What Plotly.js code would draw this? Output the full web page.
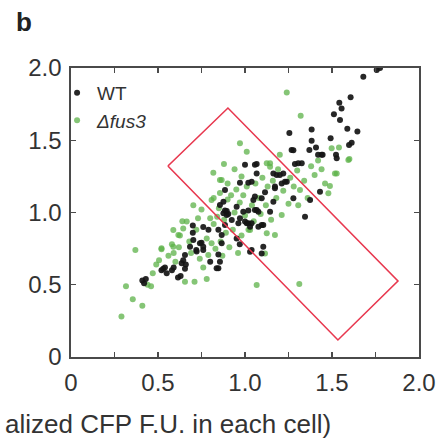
<!DOCTYPE html>
<html>
<head>
<meta charset="utf-8">
<script src="https://cdn.plot.ly/plotly-3.0.1.min.js"></script>
<style>html,body{margin:0;padding:0;background:#fff;}#chart{width:448px;height:440px;}</style>
</head>
<body>
<div id="chart"></div>
<script>
// WT (black) points
const wtX = [0.41,0.42,0.43,0.52,0.53,0.54,0.55,0.58,0.59,0.615,0.63,0.645,0.636,0.655,0.655,0.66,
  0.70,0.70,0.703,0.72,0.722,0.75,0.76,0.76,0.79,0.80,0.684,0.741,0.837,0.76,
  0.847,0.847,0.856,0.847,0.866,0.885,0.876,0.885,0.856,0.866,0.876,
  0.895,0.904,0.885,0.895,0.924,0.952,0.952,0.962,0.971,0.99,1.0,0.971,0.97,
  1.01,1.019,1.029,1.019,1.019,1.038,1.038,1.038,1.048,1.057,1.057,1.067,1.077,1.067,1.067,1.0,1.057,1.029,1.077,
  1.096,1.115,1.096,1.105,1.105,1.096,
  1.144,1.163,1.172,1.172,1.163,1.182,1.22,1.211,1.24,1.2,1.23,
  1.255,1.268,1.278,1.278,1.287,1.306,1.326,1.345,1.37,1.374,1.383,1.383,1.408,1.42,1.431,1.44,1.446,
  1.492,1.511,1.523,1.527,1.542,1.546,1.555,1.588,1.598,1.607,1.613,1.646,1.68,1.757,1.776];
const wtY = [0.53,0.51,0.54,0.60,0.61,0.62,0.58,0.60,0.62,0.55,0.56,0.67,0.648,0.706,0.61,0.64,
  0.91,0.86,0.81,0.74,0.73,0.79,0.74,0.90,0.88,0.66,0.763,0.787,0.614,0.763,
  0.88,0.71,0.66,0.614,0.844,0.913,1.075,1.156,1.052,0.787,0.994,
  1.01,0.99,1.013,0.983,0.948,0.82,1.04,0.925,0.96,1.006,0.937,1.206,0.78,
  0.925,0.925,0.902,1.013,1.206,1.213,0.925,0.74,1.087,1.11,1.017,1.017,1.006,1.27,1.336,1.33,1.33,0.729,0.902,
  1.098,1.14,0.913,0.913,0.763,0.717,
  1.006,1.075,1.18,1.167,1.27,1.26,1.27,1.20,1.213,1.26,1.213,
  1.55,1.433,1.43,1.098,1.335,1.34,1.34,0.971,1.433,1.087,1.575,1.497,1.45,1.40,1.144,1.40,1.40,
  1.513,1.68,1.40,1.375,1.76,1.64,1.72,1.58,1.467,1.797,1.483,1.56,1.94,1.986,2.0];

// Δfus3 (green) points
const fusX = [0.29,0.355,0.41,0.316,0.37,0.46,0.47,0.506,0.52,0.58,0.59,0.655,0.71,0.78,0.626,0.64,0.49,0.44,
  0.56,0.60,0.62,0.588,0.617,0.645,0.665,0.52,0.588,0.68,0.69,0.72,0.73,0.74,0.75,0.76,0.78,0.789,0.80,0.808,
  0.808,0.82,0.703,0.82,0.83,0.84,0.85,0.86,0.87,0.88,0.89,0.90,0.91,0.92,0.93,0.94,0.95,0.96,0.97,0.98,0.99,
  1.0,1.01,1.02,1.029,1.04,1.05,1.06,1.067,1.08,1.09,1.10,1.115,1.12,1.125,1.13,1.144,1.144,1.125,1.15,1.16,
  1.172,1.18,1.19,1.2,1.211,1.22,1.24,1.25,1.26,1.28,1.30,1.306,1.312,1.316,1.32,1.34,1.36,1.38,1.40,1.42,1.44,
  1.46,1.479,1.488,1.498,1.517,1.527,1.54,1.594,1.60,0.971,1.01,0.879,0.818,0.866,0.856,0.90,0.94,0.98,0.856];
const fusY = [0.28,0.40,0.355,0.49,0.74,0.49,0.58,0.67,0.745,0.78,0.72,0.52,0.52,0.54,0.84,0.94,0.64,0.50,
  0.70,0.66,0.76,0.879,0.844,0.89,0.937,0.752,0.763,0.80,0.72,0.88,0.96,0.68,1.02,0.62,0.82,0.706,0.96,0.787,
  1.087,1.10,1.05,0.92,0.75,0.97,1.03,0.80,0.70,0.95,0.86,1.09,0.76,1.12,0.88,1.00,1.16,0.72,1.07,0.84,1.12,
  0.98,1.18,0.88,0.879,1.05,0.94,1.20,0.498,1.10,0.99,1.24,0.717,1.05,0.856,1.18,1.34,1.317,1.34,0.95,1.22,
  0.844,1.10,1.30,1.40,0.983,1.15,1.83,1.06,1.24,1.18,1.29,1.05,0.505,1.156,1.67,1.22,1.10,1.32,1.26,1.36,1.30,
  1.20,1.133,1.183,1.444,1.27,1.27,1.45,1.363,1.37,1.479,1.42,1.336,1.275,1.225,1.225,1.20,1.30,1.25,1.135];

// Gating box corners
const boxX = [0.557,0.902,1.879,1.534,0.557];
const boxY = [1.322,1.723,0.526,0.118,1.322];

const tickVals = [0,0.5,1,1.5,2];
const tickText = ['0','0.5','1.0','1.5','2.0'];
const xTitle = 'alized CFP F.U. in each cell)';
const panelLabel = 'b';

const font = 'Liberation Sans, Arial, Helvetica, sans-serif';

const traces = [
  {x: fusX, y: fusY, type: 'scatter', mode: 'markers', name: '<i>Δfus3</i>', legendrank: 2,
   marker: {color: 'rgb(92,178,72)', opacity: 0.75, size: 6}},
  {x: wtX, y: wtY, type: 'scatter', mode: 'markers', name: 'WT', legendrank: 1,
   marker: {color: '#151515', opacity: 0.92, size: 6}},
  {x: boxX, y: boxY, type: 'scatter', mode: 'lines', showlegend: false, hoverinfo: 'skip',
   line: {color: '#e8384f', width: 1.6}}
];

const axisCommon = {
  range: [0, 2], showgrid: false, zeroline: false,
  showline: true, linecolor: '#4a4a4a', linewidth: 1.6, mirror: 'ticks',
  ticks: 'inside', ticklen: 5, tickcolor: '#4a4a4a', tickwidth: 1.4,
  tickvals: tickVals, ticktext: tickText,
  tickfont: {family: font, size: 24, color: '#333'}
};

const layout = {
  width: 448, height: 440,
  margin: {l: 71, r: 29, t: 68, b: 83},
  paper_bgcolor: '#fff', plot_bgcolor: '#fff',
  showlegend: true,
  legend: {x: -0.04, y: 0.98, xanchor: 'left', yanchor: 'top', bgcolor: 'rgba(0,0,0,0)',
    traceorder: 'normal',
    font: {family: font, size: 19, color: '#333'}},
  xaxis: Object.assign({}, axisCommon, {
    minor: {dtick: 0.25, tick0: 0, ticks: 'inside', ticklen: 5, tickcolor: '#4a4a4a', tickwidth: 1.4},
    ticklabelstandoff: 4
  }),
  yaxis: Object.assign({}, axisCommon, {ticklabelstandoff: 3}),
  annotations: [
    {text: '<b>' + panelLabel + '</b>', xref: 'paper', yref: 'paper', x: -0.165, y: 1.16,
     xanchor: 'left', yanchor: 'middle', showarrow: false,
     font: {family: font, size: 26, color: '#222'}},
    {text: xTitle, xref: 'paper', yref: 'paper', x: 0.753, y: -0.232,
     xanchor: 'right', yanchor: 'middle', showarrow: false,
     font: {family: font, size: 26, color: '#333'}}
  ]
};

Plotly.newPlot('chart', traces, layout, {displayModeBar: false, staticPlot: true});
</script>
</body>
</html>
